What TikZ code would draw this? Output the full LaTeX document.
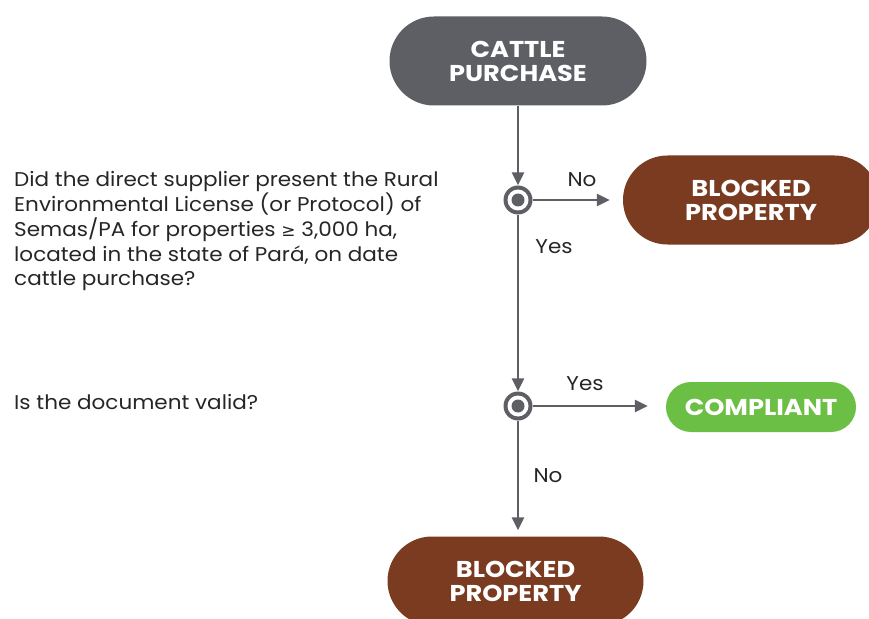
\documentclass[tikz,border=0pt]{standalone}
\usepackage{fontspec}
\setmainfont{Poppins}[FakeStretch=1.08]
\newfontfamily\boldfont{Poppins}[FakeStretch=1.12]
\newfontfamily\symfont{DejaVu Sans}
\usetikzlibrary{arrows.meta}
\definecolor{dgray}{HTML}{5D5F64}
\definecolor{brownc}{HTML}{7A3B20}
\definecolor{greenc}{HTML}{6CBF45}
\tikzset{
  term/.style={rectangle, rounded corners=#1, text=white, font=\boldfont\fontsize{23}{24}\selectfont\bfseries, align=center, inner sep=0pt},
  conn/.style={draw=dgray, line width=2.8bp, -{Triangle[length=13bp,width=12bp]}},
  lbl/.style={font=\fontsize{20}{25}\selectfont, text=dgray!40!black, inner sep=0pt},
  ques/.style={font=\fontsize{20}{25}\selectfont, text=dgray!40!black, align=left, anchor=north west, inner sep=0pt},
  dec/.style={circle, fill=dgray, minimum size=29bp, inner sep=0pt}
}
\begin{document}
\begin{tikzpicture}[x=1bp,y=-1bp]
\useasboundingbox (0,0) rectangle (869,619);
\clip (0,0) rectangle (869,619);
\node[term=44.5bp, fill=dgray, minimum width=257bp, minimum height=89bp] (cattle) at (518,61) {CATTLE\\PURCHASE};
\node[term=44.5bp, fill=brownc, minimum width=256bp, minimum height=89bp] (blocked1) at (751,200) {BLOCKED\\PROPERTY};
\node[term=25bp, fill=greenc, minimum width=190bp, minimum height=50bp] (compliant) at (761,407) {COMPLIANT};
\node[term=44.5bp, fill=brownc, minimum width=256bp, minimum height=89bp] (blocked2) at (515.5,581) {BLOCKED\\PROPERTY};
\node[dec] (c1) at (518,200) {};
\node[dec] (c2) at (518,406) {};
\foreach \c in {c1,c2}{
  \fill[white] (\c.center) circle (10.5bp);
  \fill[dgray] (\c.center) circle (6.5bp);
}
\draw[conn] (cattle.south) -- (c1.north);
\draw[conn, shorten >=13bp] (c1.east) -- (c1.east -| blocked1.west);
\draw[conn] (c1.south) -- (c2.north);
\draw[conn, shorten >=18bp] (c2.east) -- (c2.east -| compliant.west);
\draw[conn, shorten >=6bp] (c2.south) -- (c2.south |- blocked2.north);
\node[lbl] (no1) at (582,180) {No};
\node[lbl] (yes1) at (554,247) {Yes};
\node[lbl] (yes2) at (585,384) {Yes};
\node[lbl] (no2) at (548,476) {No};
\node[ques] (q1) at (14,171) {Did the direct supplier present the Rural\\Environmental License (or Protocol) of\\Semas/PA for properties {\symfont\fontsize{17}{25}\selectfont ≥} 3,000 ha,\\located in the state of Pará, on date\\cattle purchase?};
\node[ques, anchor=west] (q2) at (14,402) {Is the document valid?};
\end{tikzpicture}
\end{document}
